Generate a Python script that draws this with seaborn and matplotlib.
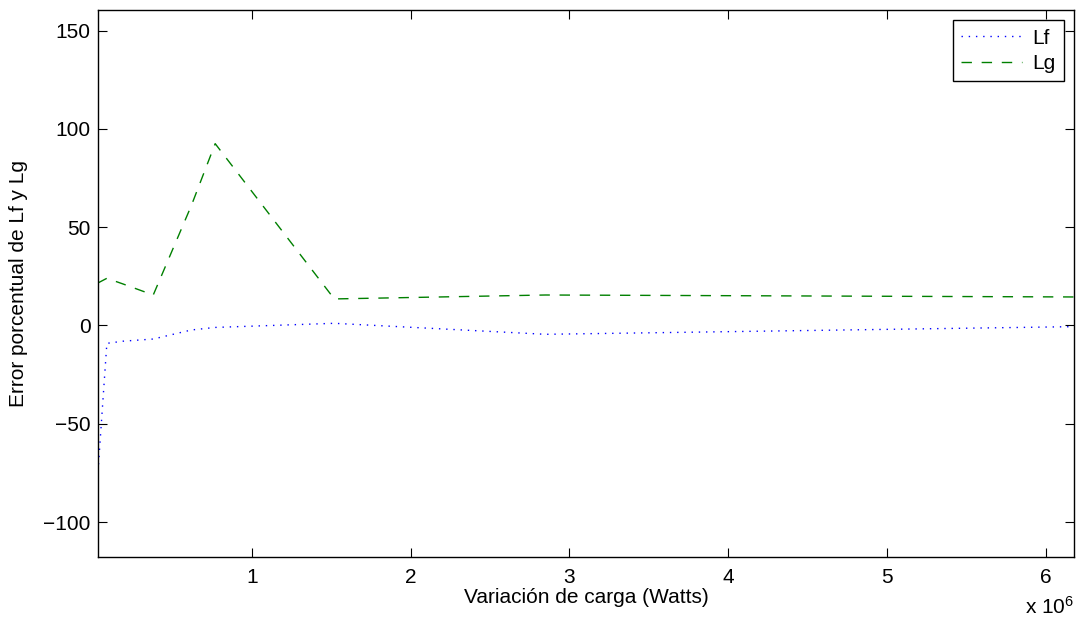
import matplotlib
matplotlib.use("Agg")
import matplotlib.pyplot as plt
import seaborn as sns
import pandas as pd

# Data (x in Watts)
carga_watts = [29000, 88000, 190000, 380000, 620000, 770000, 1520000, 2850000, 6180000]
error_lf = [-78.0, -9.1, -8.0, -6.9, -2.3, -1.0, 1.1, -4.5, -0.6]
error_lg = [21.5, 24.0, 21.1, 15.5, 61.0, 92.5, 13.5, 15.5, 14.5]
x_ticks = [1e6, 2e6, 3e6, 4e6, 5e6, 6e6]
x_tick_labels = ["1", "2", "3", "4", "5", "6"]
y_ticks = [-100, -50, 0, 50, 100, 150]

sns.set_style("white")
plt.rcParams["font.family"] = ["Liberation Sans", "DejaVu Sans"]
plt.rcParams["mathtext.default"] = "regular"
for k in ["text.color", "axes.labelcolor", "xtick.color", "ytick.color"]:
    plt.rcParams[k] = "black"
FS = 15

fig = plt.figure(figsize=(10.8, 6.25), dpi=100)
ax = fig.add_axes([97.5 / 1080, 1 - 557 / 625, (1074.3 - 97.5) / 1080, (557 - 10) / 625])

df = pd.DataFrame({"x": carga_watts, "Lf": error_lf, "Lg": error_lg})
sns.lineplot(data=df, x="x", y="Lf", ax=ax, color=(0, 0, 1), lw=1.0,
             linestyle=(0, (1, 4.2)), label="Lf")
sns.lineplot(data=df, x="x", y="Lg", ax=ax, color=(0, 0.5, 0), lw=1.0,
             linestyle=(0, (7.5, 7)), label="Lg")

ax.set_xlim(29000, 6180000)
ax.set_ylim(-117.8, 160.5)
ax.set_xticks(x_ticks)
ax.set_xticklabels(x_tick_labels)
ax.set_yticks(y_ticks)
ax.tick_params(axis="both", direction="in", length=6.5, width=0.8, color="black",
               labelcolor="black", labelsize=FS, top=True, right=True, bottom=True, left=True)
ax.tick_params(axis="x", pad=8)
ax.tick_params(axis="y", pad=5)
for s in ax.spines.values():
    s.set_color("black")
    s.set_linewidth(1.0)
    s.set_visible(True)

ax.set_xlabel("Variación de carga (Watts)", fontsize=FS, color="black")
ax.set_ylabel("Error porcentual de Lf y Lg", fontsize=FS, color="black")
ax.xaxis.set_label_coords(0.5, -0.057)
ax.yaxis.set_label_coords(-0.071, 0.5)

leg = ax.legend(loc="upper right", fontsize=FS, frameon=True, fancybox=False,
                edgecolor="black", framealpha=1, handlelength=2.9,
                handletextpad=0.5, labelspacing=0.3, borderpad=0.4,
                borderaxespad=0.5)
leg.get_frame().set_linewidth(1.0)
for t in leg.get_texts():
    t.set_color("black")

fig.text(1074 / 1080, 1 - 614 / 625, r"x $10^{6}$", ha="right", va="baseline",
         fontsize=FS, color="black")

fig.savefig("out.png", dpi=100)
